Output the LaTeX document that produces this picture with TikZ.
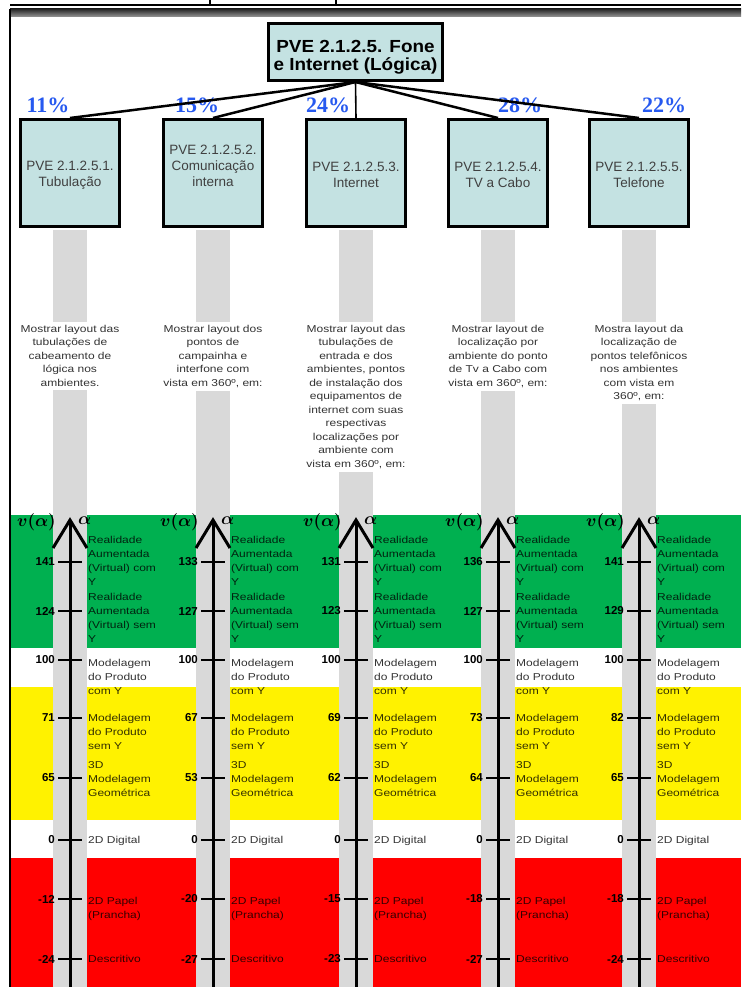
\documentclass[tikz,border=0pt]{standalone}
\usepackage{amsmath}
\usepackage{fontspec}
\setmainfont{Liberation Sans}
\newfontfamily\lblfont[FakeStretch=1.2]{Liberation Sans}
\newfontfamily\topfont[FakeStretch=1.08]{Liberation Sans}
\newfontfamily\pctfont{Liberation Serif}
\definecolor{boxfill}{HTML}{C4E2E2}
\definecolor{barcol}{HTML}{D9D9D9}
\definecolor{bgreen}{HTML}{00B050}
\definecolor{pctblue}{HTML}{2659F0}
\definecolor{txtgray}{HTML}{404040}
\begin{document}
\begin{tikzpicture}[x=1pt,y=-1pt,
  pvebox/.style={draw=black, line width=3pt, fill=boxfill, inner sep=0pt},
  toptxt/.style={font=\topfont\bfseries\fontsize{17.5}{18}\selectfont, align=center, inner sep=0pt},
  boxtxt/.style={font=\fontsize{13.5}{16}\selectfont, text=txtgray, align=center, inner sep=0pt},
  pct/.style={font=\pctfont\bfseries\fontsize{22}{22}\selectfont, text=pctblue, inner sep=0pt},
  conn/.style={line width=2.5pt, black},
  vconn/.style={line width=1.6pt, black},
  desc/.style={font=\lblfont\fontsize{10}{13.5}\selectfont, text=black!80, align=center, fill=white, inner xsep=3pt, inner ysep=3pt},
  lbl/.style={font=\lblfont\fontsize{10}{14}\selectfont, text=black, text opacity=0.8, align=left, inner sep=0pt},
  num/.style={font=\bfseries\fontsize{11.5}{12}\selectfont, inner sep=0pt, anchor=east},
  axisline/.style={line width=3pt, black},
  chev/.style={line width=3pt, black, miter limit=20},
  tickline/.style={line width=2.5pt, black},
  mathlab/.style={inner sep=0pt, font=\fontsize{16}{16}\selectfont}
]
\useasboundingbox (0,0) rectangle (741,987);
\fill[white] (0,0) rectangle (741,987);

% header remains
\draw[line width=1.2pt] (10,5) -- (741,5);
\draw[line width=1.2pt] (210,0) -- (210,5);
\draw[line width=1.2pt] (336,0) -- (336,5);
\shade[top color=black!85, bottom color=black!40] (10,9) rectangle (741,17);
\draw[line width=2pt] (10,9) -- (10,987);

% bands
\fill[bgreen] (11,515) rectangle (741,648);
\fill[yellow] (11,687) rectangle (741,820);
\fill[red] (11,858) rectangle (741,987);

% grey bars
\foreach \x in {70,213,356,498,639}
  \fill[barcol] (\x-17,230) rectangle (\x+17,987);

% percentages (under the connectors)
\node[pct] (p1) at (48,105) {11\%};
\node[pct] (p2) at (197,105) {15\%};
\node[pct] (p3) at (328,105) {24\%};
\node[pct] (p4) at (520,105) {28\%};
\node[pct] (p5) at (664,105) {22\%};

% boxes
\node[pvebox, minimum width=174pt, minimum height=57pt] (top) at (355.5,52) {};
\node[toptxt] (toptext) at (355.5,57) {PVE 2.1.2.5. Fone\\e Internet (Lógica)};

\node[pvebox, minimum width=99pt, minimum height=107pt] (c1) at (70,173) {};
\node[pvebox, minimum width=99pt, minimum height=107pt] (c2) at (213,173) {};
\node[pvebox, minimum width=99pt, minimum height=107pt] (c3) at (356,173) {};
\node[pvebox, minimum width=99pt, minimum height=107pt] (c4) at (498,173) {};
\node[pvebox, minimum width=99pt, minimum height=107pt] (c5) at (639,173) {};

\node[boxtxt] (t1) at (70,175) {PVE 2.1.2.5.1.\\Tubulação};
\node[boxtxt] (t2) at (213,166) {PVE 2.1.2.5.2.\\Comunicação\\interna};
\node[boxtxt] (t3) at (356,175) {PVE 2.1.2.5.3.\\Internet};
\node[boxtxt] (t4) at (498,175) {PVE 2.1.2.5.4.\\TV a Cabo};
\node[boxtxt] (t5) at (639,175) {PVE 2.1.2.5.5.\\Telefone};

% connectors
\draw[conn] (top.south) -- (c1.north);
\draw[conn] (top.south) -- (c2.north);
\draw[vconn] (top.south) -- (c3.north);
\draw[conn] (top.south) -- (c4.north);
\draw[conn] (top.south) -- (c5.north);

% descriptions
\node[desc, anchor=north] (d1) at (70,322) {Mostrar layout das\\tubulações de\\cabeamento de\\lógica nos\\ambientes.};
\node[desc, anchor=north] (d2) at (213,322) {Mostrar layout dos\\pontos de\\campainha e\\interfone com\\vista em 360º, em:};
\node[desc, anchor=north] (d3) at (356,322) {Mostrar layout das\\tubulações de\\entrada e dos\\ambientes, pontos\\de instalação dos\\equipamentos de\\internet com suas\\respectivas\\localizações por\\ambiente com\\vista em 360º, em:};
\node[desc, anchor=north] (d4) at (498,322) {Mostrar layout de\\localização por\\ambiente do ponto\\de Tv a Cabo com\\vista em 360º, em:};
\node[desc, anchor=north] (d5) at (639,322) {Mostra layout da\\localização de\\pontos telefônicos\\nos ambientes\\com vista em\\360º, em:};

% scales
\foreach \x/\a/\b/\c/\d/\e/\f/\g/\h [count=\i] in
  {70/141/124/100/71/65/0/-12/-24,
   213/133/127/100/67/53/0/-20/-27,
   356/131/123/100/69/62/0/-15/-23,
   498/136/127/100/73/64/0/-18/-27,
   639/141/129/100/82/65/0/-18/-24}{
  \draw[axisline] (\x,522) -- (\x,987);
  \draw[chev] (\x-17,548) -- (\x,520) -- (\x+17,548);
  \node[mathlab, anchor=east] (va\i) at (\x-14,522) {$\boldsymbol{v(\alpha)}$};
  \node[mathlab, anchor=west] (al\i) at (\x+8,521) {$\boldsymbol{\alpha}$};
  \foreach \y/\v [count=\j] in {562/\a,611/\b,660/\c,718/\d,778/\e,840/\f,899/\g,959/\h}{
    \draw[tickline] (\x-12,\y) -- (\x+12,\y);
    \node[num] (n\i-\j) at (\x-15,\y) {\v};
  }
  \foreach \y/\t [count=\j] in {
     540/{Realidade\\Aumentada\\(Virtual) com\\Y},
     597/{Realidade\\Aumentada\\(Virtual) sem\\Y},
     663/{Modelagem\\do Produto\\com Y},
     718/{Modelagem\\do Produto\\sem Y},
     765/{3D\\Modelagem\\Geométrica},
     840/{2D Digital},
     901/{2D Papel\\(Prancha)},
     959/{Descritivo}}{
    \node[lbl, anchor=north west] (l\i-\j) at (\x+18,\y-3.7) {\t};
  }
}
\end{tikzpicture}
\end{document}
